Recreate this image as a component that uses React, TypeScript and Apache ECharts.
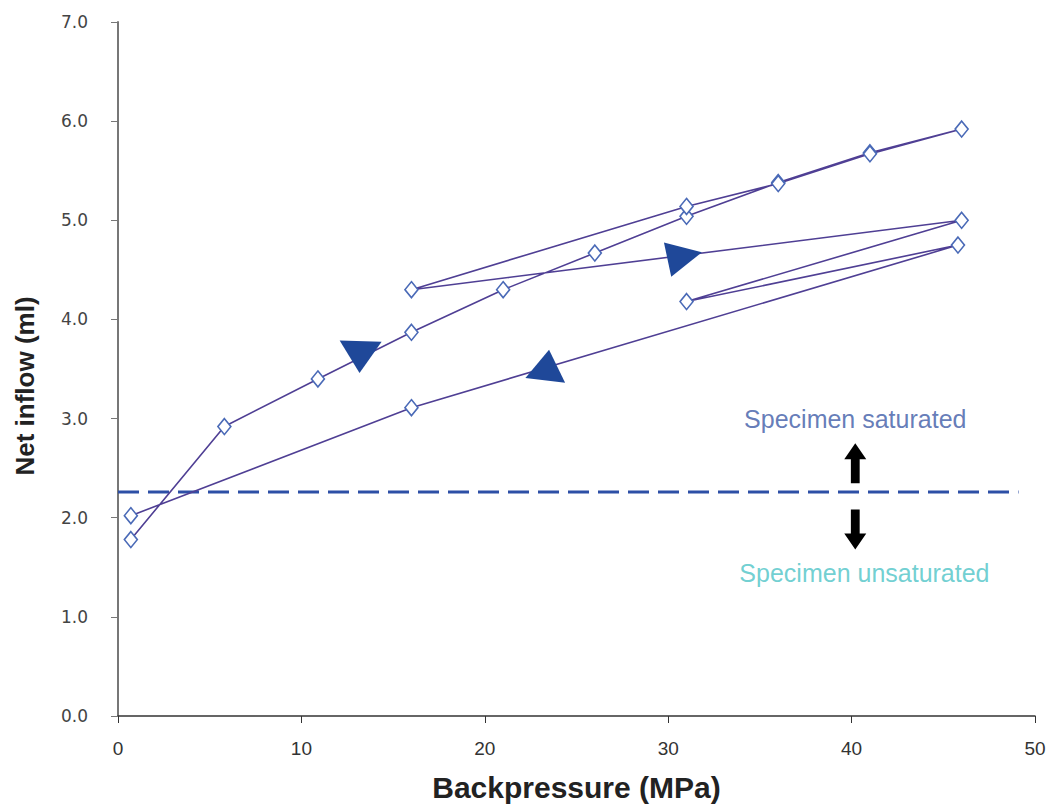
import React, { useEffect, useRef } from "react";
import * as echarts from "echarts";

// Test path in order (backpressure MPa, net inflow ml)
const pathX = [0.7, 5.8, 10.9, 16, 21, 26, 31, 36, 41, 46, 41, 36, 31, 16, 46, 31, 45.8, 16, 0.7];
const pathY = [1.78, 2.92, 3.40, 3.87, 4.30, 4.67, 5.04, 5.38, 5.68, 5.92, 5.67, 5.37, 5.14, 4.30, 5.00, 4.18, 4.75, 3.11, 2.02];

// Direction arrows on the path: x, y, rotation (deg)
const dirArrowX = [13.2, 30.9, 23.4];
const dirArrowY = [3.62, 4.64, 3.54];
const dirArrowRot = [178, -78, -7];
const dirArrowSize = [[42, 32], [35, 35], [40, 31]];

// Saturation threshold
const thresholdY = 2.26;
const thresholdXRange = [0, 49.1];

// Annotation arrows and texts
const annoArrowX = [40.2, 40.2];
const annoArrowY = [2.55, 1.88];
const annoArrowRot = [0, 180];
const annoTexts = ["Specimen saturated", "Specimen unsaturated"];
const annoTextX = [40.2, 40.7];
const annoTextY = [3.0, 1.44];
const annoTextColors = ["#3d5aa6", "#4cc3c6"];

const xTicks = [0, 10, 20, 30, 40, 50];
const yTicks = [0, 1, 2, 3, 4, 5, 6, 7];

const blockArrow = "path://M5,0 L10,8 L7,8 L7,20 L3,20 L3,8 L0,8 Z";

export default function App() {
  const ref = useRef<HTMLDivElement>(null);
  useEffect(() => {
    document.body.style.margin = "0";
    const chart = echarts.init(ref.current!, null, { renderer: "svg" });
    const font = "'Liberation Sans', Arial, sans-serif";
    chart.setOption({
      animation: false,
      backgroundColor: "#ffffff",
      grid: { left: 118, right: 22, top: 22, bottom: 85, containLabel: false },
      xAxis: {
        type: "value",
        min: xTicks[0],
        max: xTicks[xTicks.length - 1],
        interval: 10,
        name: "Backpressure (MPa)",
        nameLocation: "middle",
        nameGap: 56,
        nameTextStyle: { fontFamily: font, fontWeight: "bold", fontSize: 30, color: "#222" },
        axisLine: { lineStyle: { color: "#333", width: 1.5 } },
        axisTick: { show: true, inside: false, length: 7, lineStyle: { color: "#333" } },
        axisLabel: { fontFamily: font, fontSize: 19, color: "#333", margin: 23 },
        splitLine: { show: false },
      },
      yAxis: {
        type: "value",
        min: yTicks[0],
        max: yTicks[yTicks.length - 1],
        interval: 1,
        name: "Net inflow (ml)",
        nameLocation: "middle",
        nameGap: 80,
        nameTextStyle: { fontFamily: font, fontWeight: "bold", fontSize: 26, color: "#222", padding: [0, 34, 0, 0] },
        axisLine: { show: true, lineStyle: { color: "#777", width: 2 } },
        axisTick: { show: true, inside: false, length: 7, lineStyle: { color: "#777" } },
        axisLabel: { fontFamily: "'DejaVu Sans', sans-serif", fontSize: 17, color: "#444", margin: 30, formatter: (v: number) => v.toFixed(1) },
        splitLine: { show: false },
      },
      series: [
        {
          type: "line",
          data: [
            [thresholdXRange[0], thresholdY],
            [thresholdXRange[1], thresholdY],
          ],
          symbol: "none",
          lineStyle: { color: "#2d4fa6", width: 3, type: [21, 9] },
          z: 2,
        },
        {
          type: "line",
          data: pathX.map((x, i) => [x, pathY[i]]),
          symbol: "diamond",
          symbolSize: [13, 16],
          showAllSymbol: true,
          lineStyle: { color: "#4f3f94", width: 1.6 },
          itemStyle: { color: "#ffffff", borderColor: "#4a6ab7", borderWidth: 1.6 },
          z: 3,
        },
        {
          type: "scatter",
          data: dirArrowX.map((x, i) => ({
            value: [x, dirArrowY[i]],
            symbolRotate: dirArrowRot[i],
            symbolSize: dirArrowSize[i],
          })),
          symbol: "triangle",
          itemStyle: { color: "#1f4899", opacity: 1 },
          z: 4,
        },
        {
          type: "scatter",
          data: annoArrowX.map((x, i) => ({ value: [x, annoArrowY[i]], symbolRotate: annoArrowRot[i] })),
          symbol: blockArrow,
          symbolSize: [22, 40],
          itemStyle: { color: "#000000", opacity: 1 },
          z: 4,
        },
        {
          type: "scatter",
          data: annoTextX.map((x, i) => ({
            value: [x, annoTextY[i]],
            label: { color: annoTextColors[i] },
          })),
          symbolSize: 0,
          label: {
            show: true,
            position: "inside",
            fontFamily: font,
            fontSize: 25,
            formatter: (p: any) => annoTexts[p.dataIndex],
          },
          z: 5,
        },
      ],
    });
    return () => chart.dispose();
  }, []);
  return <div ref={ref} style={{ width: 1057, height: 807 }} />;
}
